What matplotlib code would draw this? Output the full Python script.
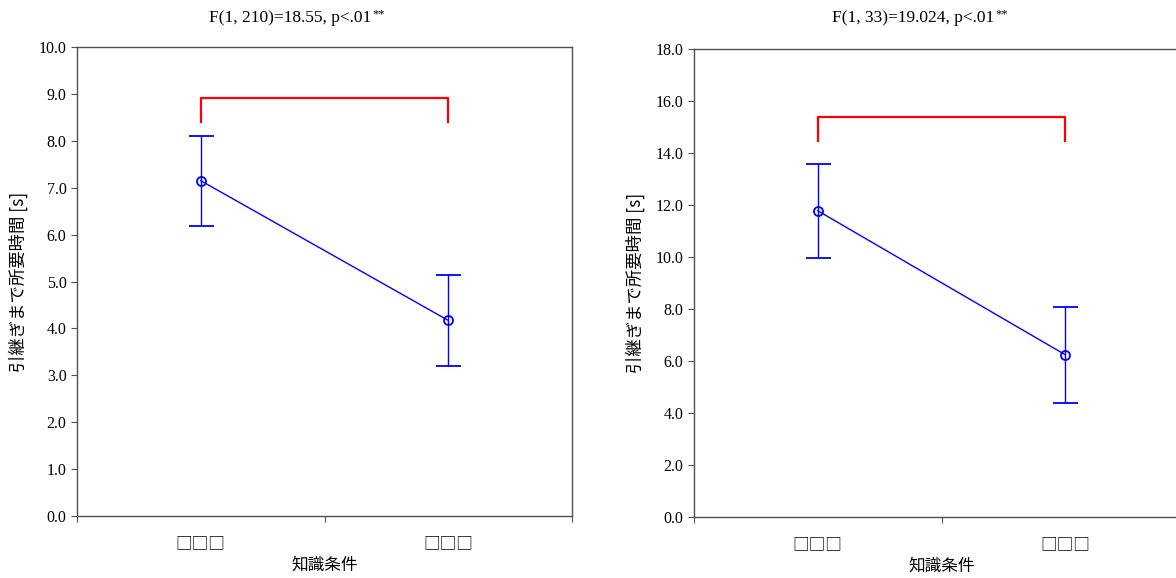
import matplotlib
matplotlib.use("Agg")
import matplotlib.pyplot as plt

plt.rcParams['font.family'] = ['Liberation Serif', 'DejaVu Serif']

# データ
categories = ["□□□", "□□□"]
xlabel = "知識条件"
ylabel = "引継ぎまで所要時間 [s]"

left_means = [7.15, 4.17]
left_errs = [0.96, 0.97]
left_bracket = (8.92, 8.40)
left_title = "F(1, 210)=18.55, p<.01"
left_ymax, left_step = 10.0, 1.0

right_means = [11.78, 6.24]
right_errs = [1.80, 1.85]
right_bracket = (15.38, 14.45)
right_title = "F(1, 33)=19.024, p<.01"
right_ymax, right_step = 18.0, 2.0

W, H = 1176, 578
fig = plt.figure(figsize=(W / 100, H / 100), dpi=100)

spine_col = "#505050"
cjk = ["Noto Sans CJK JP", "DejaVu Sans"]


def panel(rect, means, errs, bracket, ymax, step, title, title_x):
    ax = fig.add_axes(rect)
    xs = [0.5, 1.5]
    ax.errorbar(xs, means, yerr=errs, color="#0000ff", lw=1.0, elinewidth=1.0,
                capsize=9, capthick=1.0, marker="o", markersize=6.5,
                markerfacecolor="none", markeredgewidth=1.3)
    top, bottom = bracket
    ax.plot([xs[0], xs[0], xs[1], xs[1]], [bottom, top, top, bottom],
            color="#ff0000", lw=1.6)

    ax.set_xlim(0, 2)
    ax.set_ylim(0, ymax)
    n = int(round(ymax / step))
    yt = [i * step for i in range(n + 1)]
    ax.set_yticks(yt, labels=[f"{v:.1f}" for v in yt])
    ax.set_xticks([0, 1, 2], labels=["", "", ""])
    ax.set_xticks(xs, labels=categories, minor=True)
    for lab in ax.get_xticklabels(minor=True):
        lab.set_family(cjk)
        lab.set_fontsize(12)
    ax.tick_params(axis="x", which="minor", length=0, pad=14)
    ax.tick_params(axis="both", which="major", direction="out", length=4.5,
                   width=0.8, color=spine_col, labelsize=11.5, pad=3)
    for s in ax.spines.values():
        s.set_color(spine_col)
        s.set_linewidth(1.0)

    ax.set_xlabel(xlabel, family=cjk, fontsize=12, va="center")
    ax.xaxis.set_label_coords(0.5, -(565 - 516) / (rect[3] * H))
    ax.set_ylabel(ylabel, family=cjk, fontsize=12.5, va="center")
    ax.yaxis.set_label_coords(-59 / (rect[2] * W), 0.5)

    t = fig.text(title_x / W, 1 - 18 / H, title, ha="center", va="center",
                 fontsize=12.5)
    ax.annotate("**", xy=(1, 1), xycoords=t, xytext=(1, 1),
                textcoords="offset points", ha="left", va="top", fontsize=9)
    return ax


panel([77 / W, 62 / H, 495 / W, 469 / H], left_means, left_errs, left_bracket,
      left_ymax, left_step, left_title, 290)
panel([694 / W, 61 / H, 495 / W, 468 / H], right_means, right_errs, right_bracket,
      right_ymax, right_step, right_title, 913)

fig.savefig("out.png", dpi=100)
